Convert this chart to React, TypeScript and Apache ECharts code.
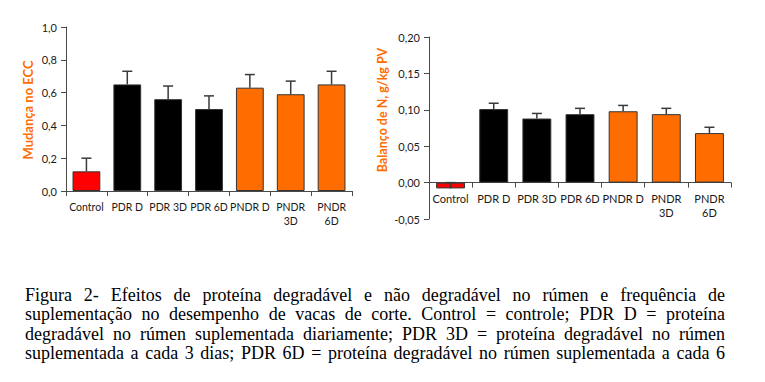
import React, { useEffect, useRef } from "react";
import * as echarts from "echarts";

const categories = ["Control", "PDR D", "PDR 3D", "PDR 6D", "PNDR D", "PNDR\n3D", "PNDR\n6D"];
const eccValues = [0.12, 0.65, 0.56, 0.5, 0.63, 0.59, 0.65];
const eccErrors = [0.08, 0.08, 0.08, 0.08, 0.08, 0.08, 0.08];
const nValues = [-0.008, 0.101, 0.088, 0.094, 0.098, 0.094, 0.068];
const nErrors = [0.008, 0.008, 0.007, 0.008, 0.008, 0.008, 0.008];
const barColors = ["#FF0000", "#000000", "#000000", "#000000", "#FF6D00", "#FF6D00", "#FF6D00"];
const leftAxisTitle = "Mudança no ECC";
const rightAxisTitle = "Balanço de N, g/kg PV";
const captionLines = [
  "Figura 2- Efeitos de proteína degradável e não degradável no rúmen e frequência de",
  "suplementação no desempenho de vacas de corte. Control = controle; PDR D = proteína",
  "degradável no rúmen suplementada diariamente; PDR 3D = proteína degradável no rúmen",
  "suplementada a cada 3 dias; PDR 6D = proteína degradável no rúmen suplementada a cada 6",
];

const LABEL_FONT = "Lato";
const CAPTION_FONT = "Liberation Serif";
const CAPTION_SIZE = 18;

function errorRenderer(params: any, api: any) {
  const x = api.value(0);
  const v = api.value(1);
  const e = api.value(2);
  const p0 = api.coord([x, v]);
  const p1 = api.coord([x, v + e]);
  const style = { stroke: "#3a3a3a", lineWidth: 1.5 };
  return {
    type: "group",
    children: [
      { type: "line", shape: { x1: p0[0], y1: p0[1], x2: p1[0], y2: p1[1] }, style },
      { type: "line", shape: { x1: p1[0] - 5, y1: p1[1], x2: p1[0] + 5, y2: p1[1] }, style },
    ],
  };
}

function buildCaption(): any[] {
  const canvas = document.createElement("canvas");
  const ctx = canvas.getContext("2d")!;
  const font = `${CAPTION_SIZE}px "${CAPTION_FONT}"`;
  ctx.font = font;
  const left = 25;
  const right = 725;
  const out: any[] = [];
  captionLines.forEach((line, li) => {
    const words = line.split(" ");
    const widths = words.map((w) => ctx.measureText(w).width);
    const total = widths.reduce((a, b) => a + b, 0);
    const gap = (right - left - total) / (words.length - 1);
    let x = left;
    words.forEach((w, i) => {
      out.push({
        type: "text",
        x,
        y: 295 + li * 19.3,
        style: {
          text: w,
          font,
          fill: "#000",
          align: "left",
          verticalAlign: "middle",
        },
      });
      x += widths[i] + gap;
    });
  });
  return out;
}

export default function App() {
  const ref = useRef<HTMLDivElement>(null);
  useEffect(() => {
    document.body.style.margin = "0";
    const chart = echarts.init(ref.current!, null, { renderer: "svg" });
    const axisLineStyle = { color: "#4a4a4a", width: 1 };
    const labelStyle = { fontFamily: LABEL_FONT, fontSize: 11, color: "#1a1a1a" };
    const xAxisBase = {
      type: "category",
      data: categories,
      axisTick: { show: true, length: 5, lineStyle: axisLineStyle },
      splitLine: { show: false },
    };
    chart.setOption({
      animation: false,
      grid: [
        { left: 66, top: 27, width: 286, height: 164 },
        { left: 429, top: 37, width: 302, height: 182 },
      ],
      xAxis: [
        {
          ...xAxisBase,
          gridIndex: 0,
          axisLabel: { ...labelStyle, fontSize: 10.5, interval: 0, margin: 9, lineHeight: 14 },
          axisLine: { show: true, onZero: false, lineStyle: axisLineStyle },
        },
        {
          ...xAxisBase,
          gridIndex: 1,
          offset: -36.4,
          axisLabel: { ...labelStyle, interval: 0, margin: 9, lineHeight: 14 },
          axisLine: { show: true, onZero: false, lineStyle: axisLineStyle },
        },
      ],
      yAxis: [
        {
          type: "value",
          gridIndex: 0,
          min: 0,
          max: 1,
          interval: 0.2,
          axisLine: { show: true, lineStyle: axisLineStyle },
          axisTick: { show: true, length: 5, lineStyle: axisLineStyle },
          axisLabel: { ...labelStyle, margin: 9, formatter: (v: number) => v.toFixed(1).replace(".", ",") },
          splitLine: { show: false },
        },
        {
          type: "value",
          gridIndex: 1,
          min: -0.05,
          max: 0.2,
          interval: 0.05,
          axisLine: { show: true, lineStyle: axisLineStyle },
          axisTick: { show: true, length: 5, lineStyle: axisLineStyle },
          axisLabel: { ...labelStyle, margin: 9, formatter: (v: number) => v.toFixed(2).replace(".", ",") },
          splitLine: { show: false },
        },
      ],
      series: [
        {
          type: "bar",
          xAxisIndex: 0,
          yAxisIndex: 0,
          barWidth: "68%",
          data: eccValues.map((v, i) => ({
            value: v,
            itemStyle: { color: barColors[i], borderColor: "#333", borderWidth: 1 },
          })),
        },
        {
          type: "custom",
          xAxisIndex: 0,
          yAxisIndex: 0,
          renderItem: errorRenderer,
          encode: { x: 0, y: 1 },
          z: 5,
          data: eccValues.map((v, i) => [i, v, eccErrors[i]]),
        },
        {
          type: "bar",
          xAxisIndex: 1,
          yAxisIndex: 1,
          barWidth: "67%",
          data: nValues.map((v, i) => ({
            value: v,
            itemStyle: { color: barColors[i], borderColor: "#333", borderWidth: 1 },
          })),
        },
        {
          type: "custom",
          xAxisIndex: 1,
          yAxisIndex: 1,
          renderItem: errorRenderer,
          encode: { x: 0, y: 1 },
          z: 5,
          data: nValues.map((v, i) => [i, v, nErrors[i]]),
        },
      ],
      graphic: [
        {
          type: "text",
          x: 28,
          y: 110,
          rotation: Math.PI / 2,
          style: {
            text: leftAxisTitle,
            font: `bold 13px "${LABEL_FONT}"`,
            fill: "#FF6D00",
            align: "center",
            verticalAlign: "middle",
          },
        },
        {
          type: "text",
          x: 382,
          y: 110,
          rotation: Math.PI / 2,
          style: {
            text: rightAxisTitle,
            font: `bold 12.5px "${LABEL_FONT}"`,
            fill: "#FF6D00",
            align: "center",
            verticalAlign: "middle",
          },
        },
        ...buildCaption(),
      ],
    });
    return () => chart.dispose();
  }, []);
  return <div ref={ref} style={{ width: 765, height: 382 }} />;
}
